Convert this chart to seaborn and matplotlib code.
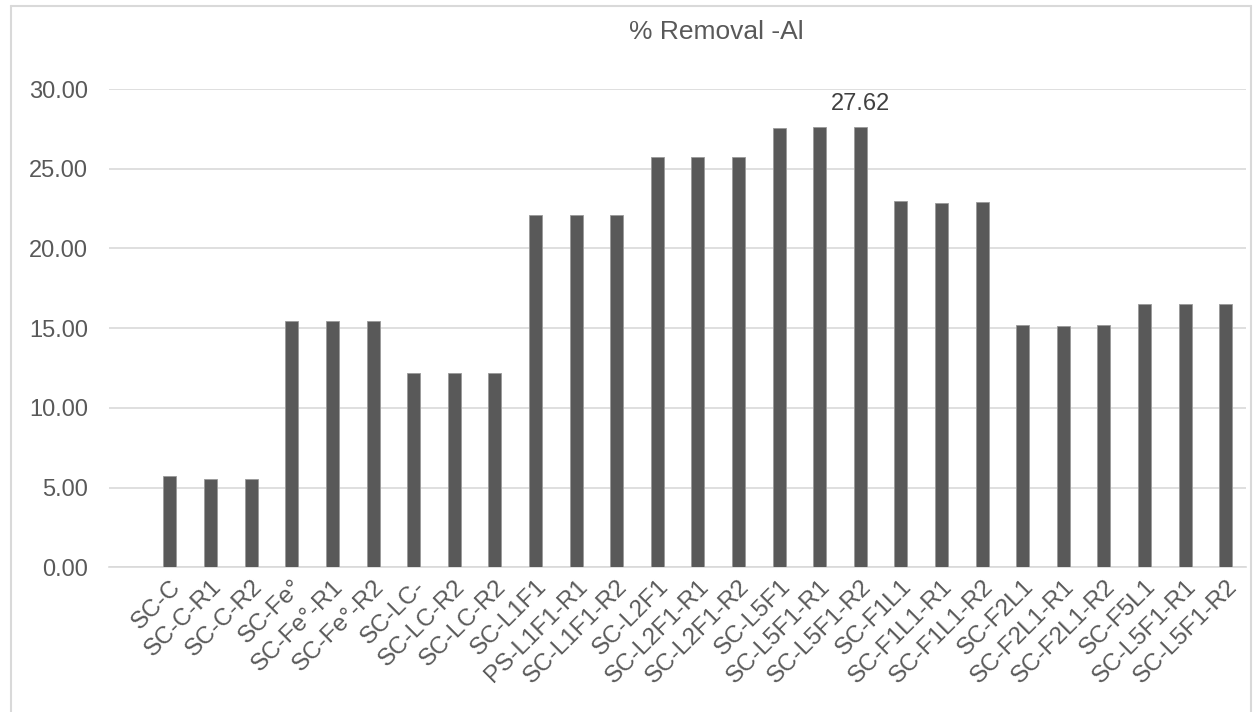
import matplotlib
matplotlib.use("Agg")
import matplotlib.pyplot as plt
from matplotlib.lines import Line2D
import seaborn as sns
import pandas as pd

# Sample labels (some names repeat, so bars are placed by position)
labels = [
    "SC-C", "SC-C-R1", "SC-C-R2",
    "SC-Fe°", "SC-Fe°-R1", "SC-Fe°-R2",
    "SC-LC-", "SC-LC-R2", "SC-LC-R2",
    "SC-L1F1", "PS-L1F1-R1", "SC-L1F1-R2",
    "SC-L2F1", "SC-L2F1-R1", "SC-L2F1-R2",
    "SC-L5F1", "SC-L5F1-R1", "SC-L5F1-R2",
    "SC-F1L1", "SC-F1L1-R1", "SC-F1L1-R2",
    "SC-F2L1", "SC-F2L1-R1", "SC-F2L1-R2",
    "SC-F5L1", "SC-L5F1-R1", "SC-L5F1-R2",
]
removal_al = [
    5.76, 5.55, 5.57,
    15.48, 15.48, 15.46,
    12.22, 12.22, 12.20,
    22.10, 22.07, 22.10,
    25.73, 25.75, 25.73,
    27.55, 27.60, 27.62,
    22.95, 22.87, 22.91,
    15.21, 15.13, 15.21,
    16.55, 16.55, 16.55,
]
y_ticks = [0, 5, 10, 15, 20, 25, 30]
title = "% Removal -Al"

sns.set_theme(style="white")
plt.rcParams["font.family"] = ["Liberation Sans", "DejaVu Sans"]

TXT = "#595959"
GRID = "#d9d9d9"
BAR = "#595959"

fig = plt.figure(figsize=(12.55, 7.12), dpi=100)
ax = fig.add_axes([0.0869, 0.203, 0.906, 0.672])

df = pd.DataFrame({"pos": list(range(len(labels))), "value": removal_al})
sns.barplot(data=df, x="pos", y="value", color=BAR, width=0.32,
            saturation=1, edgecolor="#9a9a9a", linewidth=0.6, ax=ax, zorder=3)

ax.set_xlim(-1.5, len(labels) - 0.5)
ax.set_ylim(0, 30)
ax.set_yticks(y_ticks)
ax.set_yticklabels([f"{v:.2f}" for v in y_ticks], fontsize=17, color=TXT)
ax.set_xticks(range(len(labels)))
ax.set_xticklabels(labels, rotation=45, ha="right", rotation_mode="anchor",
                   fontsize=17.5, color=TXT)
ax.tick_params(axis="both", length=0)
ax.tick_params(axis="y", pad=15)
ax.tick_params(axis="x", pad=6)
ax.set_xlabel("")
ax.set_ylabel("")

ax.yaxis.grid(True, color=GRID, linewidth=1.2, zorder=0)
ax.set_axisbelow(True)
for side in ["top", "right", "left"]:
    ax.spines[side].set_visible(False)
ax.spines["bottom"].set_color(GRID)
ax.spines["bottom"].set_linewidth(1.2)

# value label on the highest bar
imax = max(range(len(removal_al)), key=lambda i: removal_al[i])
ax.text(imax, removal_al[imax] + 0.75, f"{removal_al[imax]:.2f}",
        ha="center", va="bottom", fontsize=17, color="#404040")

fig.text(716 / 1255, 1 - 32 / 712, title, ha="center", va="center",
         fontsize=19, color=TXT)

# chart area border
W, H = 1255, 712
bx0, by0, bx1 = 11 / W, 1 - 6 / H, 1251 / W
fig.add_artist(Line2D([bx0, bx0], [0, by0], transform=fig.transFigure,
                      color=GRID, linewidth=1.5))
fig.add_artist(Line2D([bx0, bx1], [by0, by0], transform=fig.transFigure,
                      color=GRID, linewidth=1.5))
fig.add_artist(Line2D([bx1, bx1], [0, by0], transform=fig.transFigure,
                      color=GRID, linewidth=1.5))

fig.savefig("out.png", dpi=100, facecolor="white")
